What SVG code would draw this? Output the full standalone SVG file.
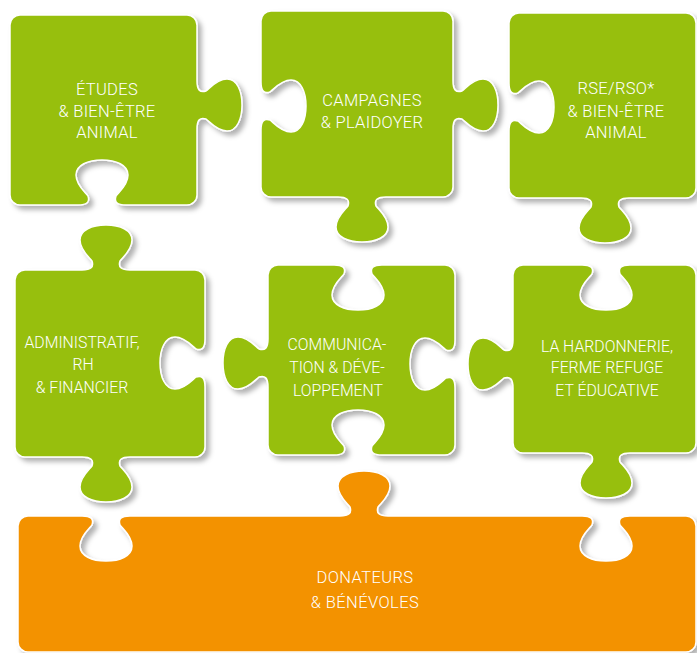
<svg xmlns="http://www.w3.org/2000/svg" width="697" height="653" viewBox="0 0 697 653">
<style>
.pc{stroke:#ffffff;stroke-width:1.5;filter:url(#sh)}
.g{fill:#97bf0d}
.o{fill:#f39200}
.t{fill:#ffffff;font-family:Roboto,"Liberation Sans",Arial,sans-serif;font-weight:300;text-anchor:middle}
.t1{font-size:16.5px;letter-spacing:0.3px}
.t2{font-size:15.8px}
.t3{font-size:16.5px;letter-spacing:0.4px}
</style>
<defs>
<filter id="sh" x="-10%" y="-10%" width="130%" height="130%">
<feDropShadow dx="4" dy="4" stdDeviation="2.5" flood-color="#000" flood-opacity="0.3"/>
</filter>
</defs>
<rect width="697" height="653" fill="#ffffff"/>
<g id="connectors"/>
<g id="etudes">
<path class="pc g" d="M 20,15 H 187 A 10,10 0 0 1 197,25 V 81 c 0,9 3,12 9,10 c 4,-3 11,-12 21,-12 c 10,0 15,12 15,26 c 0,14 -5,26 -15,26 c -10,0 -17,-9 -21,-12 c -6,-2 -9,1 -9,10 V 195 A 10,10 0 0 1 187,205 H 126 c -9,0 -12,-3 -10,-9 c 3,-4 12,-11 12,-21 c 0,-10 -12,-15 -26,-15 c -14,0 -26,5 -26,15 c 0,10 9,17 12,21 c 2,6 -1,9 -10,9 H 20 A 10,10 0 0 1 10,195 V 25 A 10,10 0 0 1 20,15 Z"/>
<text class="t t1" x="107" y="95">ÉTUDES</text>
<text class="t t1" x="107" y="117">&amp; BIEN-ÊTRE</text>
<text class="t t1" x="107" y="138">ANIMAL</text>
</g>
<g id="campagnes">
<path class="pc g" d="M 271,11 H 443 A 10,10 0 0 1 453,21 V 81 c 0,9 3,12 9,10 c 4,-3 11,-12 21,-12 c 10,0 15,12 15,26 c 0,14 -5,26 -15,26 c -10,0 -17,-9 -21,-12 c -6,-2 -9,1 -9,10 V 187 A 10,10 0 0 1 443,197 H 386 c -9,0 -12,3 -10,9 c 3,4 12,11 12,21 c 0,10 -12,15 -26,15 c -14,0 -26,-5 -26,-15 c 0,-10 9,-17 12,-21 c 2,-6 -1,-9 -10,-9 H 271 A 10,10 0 0 1 261,187 V 130 c 0,-9 3,-12 9,-10 c 4,3 11,12 21,12 c 10,0 15,-12 15,-26 c 0,-14 -5,-26 -15,-26 c -10,0 -17,9 -21,12 c -6,2 -9,-1 -9,-10 V 21 A 10,10 0 0 1 271,11 Z"/>
<text class="t t1" x="372" y="106">CAMPAGNES</text>
<text class="t t1" x="372" y="128">&amp; PLAIDOYER</text>
</g>
<g id="rse">
<path class="pc g" d="M 519,13 H 686 A 10,10 0 0 1 696,23 V 188 A 10,10 0 0 1 686,198 H 629 c -9,0 -12,3 -10,9 c 3,4 12,11 12,21 c 0,10 -12,15 -26,15 c -14,0 -26,-5 -26,-15 c 0,-10 9,-17 12,-21 c 2,-6 -1,-9 -10,-9 H 519 A 10,10 0 0 1 509,188 V 131 c 0,-9 3,-12 9,-10 c 4,3 11,12 21,12 c 10,0 15,-12 15,-26 c 0,-14 -5,-26 -15,-26 c -10,0 -17,9 -21,12 c -6,2 -9,-1 -9,-10 V 23 A 10,10 0 0 1 519,13 Z"/>
<text class="t t1" x="616" y="94">RSE/RSO*</text>
<text class="t t1" x="616" y="117">&amp; BIEN-ÊTRE</text>
<text class="t t1" x="616" y="138">ANIMAL</text>
</g>
<g id="administratif">
<path class="pc g" d="M 25,270 H 82 c 9,0 12,-3 10,-9 c -3,-4 -12,-11 -12,-21 c 0,-10 12,-15 26,-15 c 14,0 26,5 26,15 c 0,10 -9,17 -12,21 c -2,6 1,9 10,9 H 195 A 10,10 0 0 1 205,280 V 339 c 0,9 -3,12 -9,10 c -4,-3 -11,-12 -21,-12 c -10,0 -15,12 -15,26 c 0,14 5,26 15,26 c 10,0 17,-9 21,-12 c 6,-2 9,1 9,10 V 447 A 10,10 0 0 1 195,457 H 130 c -9,0 -12,3 -10,9 c 3,4 12,11 12,21 c 0,10 -12,15 -26,15 c -14,0 -26,-5 -26,-15 c 0,-10 9,-17 12,-21 c 2,-6 -1,-9 -10,-9 H 25 A 10,10 0 0 1 15,447 V 280 A 10,10 0 0 1 25,270 Z"/>
<text class="t t2" x="82" y="348">ADMINISTRATIF,</text>
<text class="t t2" x="83" y="370">RH</text>
<text class="t t2" x="82" y="393">&amp; FINANCIER</text>
</g>
<g id="communication">
<path class="pc g" d="M 278,265 H 334 c 9,0 12,3 10,9 c -3,4 -12,11 -12,21 c 0,10 12,15 26,15 c 14,0 26,-5 26,-15 c 0,-10 -9,-17 -12,-21 c -2,-6 1,-9 10,-9 H 445 A 10,10 0 0 1 455,275 V 340 c 0,9 -3,12 -9,10 c -4,-3 -11,-12 -21,-12 c -10,0 -15,12 -15,26 c 0,14 5,26 15,26 c 10,0 17,-9 21,-12 c 6,-2 9,1 9,10 V 445 A 10,10 0 0 1 445,455 H 382 c -9,0 -12,-3 -10,-9 c 3,-4 12,-11 12,-21 c 0,-10 -12,-15 -26,-15 c -14,0 -26,5 -26,15 c 0,10 9,17 12,21 c 2,6 -1,9 -10,9 H 278 A 10,10 0 0 1 268,445 V 387 c 0,-9 -3,-12 -9,-10 c -4,3 -11,12 -21,12 c -10,0 -15,-12 -15,-26 c 0,-14 5,-26 15,-26 c 10,0 17,9 21,12 c 6,2 9,-1 9,-10 V 275 A 10,10 0 0 1 278,265 Z"/>
<text class="t t2" x="337" y="350">COMMUNICA-</text>
<text class="t t2" x="337" y="373">TION &amp; DÉVE-</text>
<text class="t t2" x="338" y="396">LOPPEMENT</text>
</g>
<g id="hardonnerie">
<path class="pc g" d="M 523,265 H 582 c 9,0 12,3 10,9 c -3,4 -12,11 -12,21 c 0,10 12,15 26,15 c 14,0 26,-5 26,-15 c 0,-10 -9,-17 -12,-21 c -2,-6 1,-9 10,-9 H 686 A 10,10 0 0 1 696,275 V 443 A 10,10 0 0 1 686,453 H 630 c -9,0 -12,3 -10,9 c 3,4 12,11 12,21 c 0,10 -12,15 -26,15 c -14,0 -26,-5 -26,-15 c 0,-10 9,-17 12,-21 c 2,-6 -1,-9 -10,-9 H 523 A 10,10 0 0 1 513,443 V 388 c 0,-9 -3,-12 -9,-10 c -4,3 -11,12 -21,12 c -10,0 -15,-12 -15,-26 c 0,-14 5,-26 15,-26 c 10,0 17,9 21,12 c 6,2 9,-1 9,-10 V 275 A 10,10 0 0 1 523,265 Z"/>
<text class="t t2" x="607" y="352">LA HARDONNERIE,</text>
<text class="t t2" x="607" y="373">FERME REFUGE</text>
<text class="t t2" x="607" y="396">ET ÉDUCATIVE</text>
</g>
<g id="donateurs">
<path class="pc o" d="M 28,516 H 82 c 9,0 12,3 10,9 c -3,4 -12,11 -12,21 c 0,10 12,15 26,15 c 14,0 26,-5 26,-15 c 0,-10 -9,-17 -12,-21 c -2,-6 1,-9 10,-9 H 340 c 9,0 12,-3 10,-9 c -3,-4 -12,-11 -12,-21 c 0,-10 12,-15 26,-15 c 14,0 26,5 26,15 c 0,10 -9,17 -12,21 c -2,6 1,9 10,9 H 582 c 9,0 12,3 10,9 c -3,4 -12,11 -12,21 c 0,10 12,15 26,15 c 14,0 26,-5 26,-15 c 0,-10 -9,-17 -12,-21 c -2,-6 1,-9 10,-9 H 686 A 10,10 0 0 1 696,526 V 642 A 10,10 0 0 1 686,652 H 28 A 10,10 0 0 1 18,642 V 526 A 10,10 0 0 1 28,516 Z"/>
<text class="t t3" x="365" y="583">DONATEURS</text>
<text class="t t3" x="365" y="608">&amp; BÉNÉVOLES</text>
</g>
</svg>
